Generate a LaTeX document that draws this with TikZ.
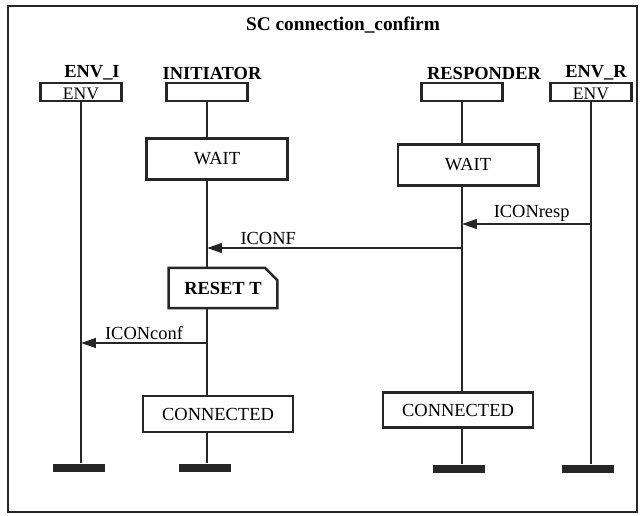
\documentclass[tikz,border=0pt]{standalone}
\usepackage{fontspec}
\setmainfont{Liberation Serif}
\usetikzlibrary{positioning,arrows.meta,shapes.misc}
\tikzset{
  frame/.style={draw=black!85, line width=1.3pt},
  inst/.style={draw=black!85, line width=1.3pt, minimum width=46pt, minimum height=10.2pt, inner sep=0pt, text height=9pt, text depth=0pt, font=\fontsize{10}{10}\selectfont},
  instname/.style={font=\fontsize{10.5}{12}\selectfont\bfseries, inner sep=1pt},
  sdlstate/.style={draw=black!85, line width=1.4pt, minimum width=80pt, minimum height=23.5pt, font=\fontsize{10.5}{12}\selectfont},
  sdltask/.style={chamfered rectangle, chamfered rectangle corners=north east, chamfered rectangle xsep=3.5pt, chamfered rectangle ysep=3.5pt, draw=black!85, line width=1.4pt, minimum width=62pt, minimum height=22.8pt, font=\fontsize{10.5}{12}\selectfont\bfseries},
  sdlend/.style={fill=black!85, minimum width=29.6pt, minimum height=5.1pt, inner sep=0pt},
  life/.style={draw=black!85, line width=1.5pt},
  msg/.style={draw=black!85, line width=1.3pt, -{Triangle[length=8.5pt,width=5.5pt]}},
  msglbl/.style={font=\fontsize{10.5}{12}\selectfont, inner sep=1pt, above}
}

\begin{document}
\begin{tikzpicture}[x=0.02cm, y=-0.02cm]
  \useasboundingbox (0,0) rectangle (641,516);
  \draw[frame] (8,6) rectangle (637,512);
  \node[font=\fontsize{11}{13}\selectfont\bfseries] (title) at (343,25) {SC connection\_confirm};

  % instance heads
  \node[inst] (envi) at (81,92) {ENV};
  \node[inst] (init) at (207,92) {};
  \node[inst] (resp) at (462,92) {};
  \node[inst] (envr) at (591,92) {ENV};
  \node[instname] (envilbl) at (92,73) {ENV\_I};
  \node[instname] (initlbl) at (212,73) {INITIATOR};
  \node[instname] (resplbl) at (484,73) {RESPONDER};
  \node[instname] (envrlbl) at (596,73) {ENV\_R};

  % states and tasks
  \node[sdlstate] (iwait) at (217,159) {WAIT};
  \node[sdlstate] (rwait) at (468,165) {WAIT};
  \node[sdltask] (ireset) at (223,288) {RESET T};
  \node[sdlstate, minimum width=85.3pt, minimum height=20.5pt] (iconn) at (218,414) {CONNECTED};
  \node[sdlstate, minimum width=85.3pt, minimum height=20pt] (rconn) at (458,410) {CONNECTED};

  % instance ends
  \node[sdlend] (enviend) at (79,468) {};
  \node[sdlend] (initend) at (205,468) {};
  \node[sdlend] (respend) at (459,469) {};
  \node[sdlend] (envrend) at (588,469) {};

  % lifelines
  \draw[life] (envi.south) -- (envi.south |- enviend.north);
  \draw[life] (envr.south) -- (envr.south |- envrend.north);
  \draw[life] (init.south) -- (init.south |- iwait.north);
  \draw[life] (init.south |- iwait.south) -- (init.south |- ireset.north);
  \draw[life] (init.south |- ireset.south) -- (init.south |- iconn.north);
  \draw[life] (init.south |- iconn.south) -- (init.south |- initend.north);
  \draw[life] (resp.south) -- (resp.south |- rwait.north);
  \draw[life] (resp.south |- rwait.south) -- (resp.south |- rconn.north);
  \draw[life] (resp.south |- rconn.south) -- (resp.south |- respend.north);

  % messages
  \coordinate (rsp1) at (envr.south |- 0,224);
  \coordinate (rsp2) at (resp.south |- 0,224);
  \coordinate (cnf1) at (resp.south |- 0,248);
  \coordinate (cnf2) at (init.south |- 0,248);
  \coordinate (ccf1) at (init.south |- 0,343);
  \coordinate (ccf2) at (envi.south |- 0,343);
  \draw[msg] (rsp1) -- node[msglbl, pos=0.46] {ICONresp} (rsp2);
  \draw[msg] (cnf1) -- node[msglbl, pos=0.76] {ICONF} (cnf2);
  \draw[msg] (ccf1) -- node[msglbl, pos=0.5] {ICONconf} (ccf2);
\end{tikzpicture}
\end{document}
